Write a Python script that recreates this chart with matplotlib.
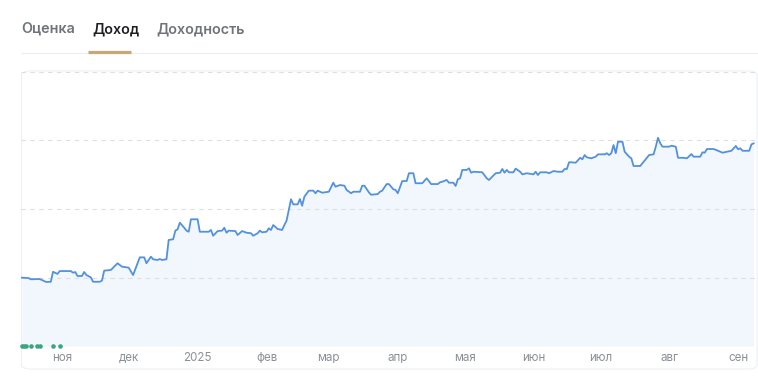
import matplotlib
matplotlib.use('Agg')
import matplotlib.pyplot as plt
import matplotlib.dates as mdates
from matplotlib.patches import FancyBboxPatch
import numpy as np

plt.rcParams['font.family'] = ['Inter', 'DejaVu Sans']

# ---------------- data ----------------
tabs = ['Оценка', 'Доход', 'Доходность']
active_tab = 'Доход'

month_ticks = ['2024-11-01', '2024-12-01', '2025-01-01', '2025-02-01', '2025-03-01',
               '2025-04-01', '2025-05-01', '2025-06-01', '2025-07-01', '2025-08-01',
               '2025-09-01']
month_labels = ['ноя', 'дек', '2025', 'фев', 'мар', 'апр', 'мая', 'июн', 'июл', 'авг', 'сен']

grid_values = [0, 50, 100, 150, 200]

dates = [
    '2024-10-14', '2024-10-17', '2024-10-18', '2024-10-22', '2024-10-24', '2024-10-25',
    '2024-10-27', '2024-10-28', '2024-10-30', '2024-10-31', '2024-11-05', '2024-11-06',
    '2024-11-07', '2024-11-08', '2024-11-10', '2024-11-11', '2024-11-12', '2024-11-14',
    '2024-11-15', '2024-11-18', '2024-11-19', '2024-11-20', '2024-11-23', '2024-11-26',
    '2024-11-28', '2024-12-01', '2024-12-03', '2024-12-06', '2024-12-08', '2024-12-09',
    '2024-12-11', '2024-12-12', '2024-12-14', '2024-12-15', '2024-12-16', '2024-12-18',
    '2024-12-19', '2024-12-21', '2024-12-22', '2024-12-23', '2024-12-24', '2024-12-26',
    '2024-12-27', '2024-12-28', '2024-12-29', '2025-01-01', '2025-01-02', '2025-01-06',
    '2025-01-07', '2025-01-08', '2025-01-10', '2025-01-12', '2025-01-13', '2025-01-14',
    '2025-01-15', '2025-01-18', '2025-01-19', '2025-01-21', '2025-01-23', '2025-01-25',
    '2025-01-26', '2025-01-28', '2025-01-29', '2025-01-30', '2025-02-01', '2025-02-02',
    '2025-02-03', '2025-02-04', '2025-02-06', '2025-02-08', '2025-02-09', '2025-02-10',
    '2025-02-12', '2025-02-13', '2025-02-15', '2025-02-16', '2025-02-17', '2025-02-18',
    '2025-02-20', '2025-02-22', '2025-02-23', '2025-02-24', '2025-02-26', '2025-03-01',
    '2025-03-03', '2025-03-04', '2025-03-06', '2025-03-08', '2025-03-09', '2025-03-11',
    '2025-03-12', '2025-03-15', '2025-03-16', '2025-03-17', '2025-03-19', '2025-03-20',
    '2025-03-23', '2025-03-24', '2025-03-25', '2025-03-27', '2025-03-28', '2025-03-30',
    '2025-03-31', '2025-04-01', '2025-04-03', '2025-04-05', '2025-04-06', '2025-04-08',
    '2025-04-09', '2025-04-12', '2025-04-14', '2025-04-16', '2025-04-19', '2025-04-20',
    '2025-04-21', '2025-04-23', '2025-04-24', '2025-04-26', '2025-04-27', '2025-04-28',
    '2025-04-29', '2025-04-30', '2025-05-02', '2025-05-03', '2025-05-04', '2025-05-05',
    '2025-05-09', '2025-05-11', '2025-05-12', '2025-05-15', '2025-05-17', '2025-05-18',
    '2025-05-19', '2025-05-20', '2025-05-21', '2025-05-23', '2025-05-24', '2025-05-26',
    '2025-05-27', '2025-05-29', '2025-06-01', '2025-06-02', '2025-06-03', '2025-06-04',
    '2025-06-07', '2025-06-08', '2025-06-10', '2025-06-12', '2025-06-14', '2025-06-15',
    '2025-06-16', '2025-06-17', '2025-06-18', '2025-06-20', '2025-06-22', '2025-06-23',
    '2025-06-24', '2025-06-25', '2025-06-27', '2025-06-29', '2025-06-30', '2025-07-03',
    '2025-07-04', '2025-07-05', '2025-07-06', '2025-07-07', '2025-07-08', '2025-07-09',
    '2025-07-11', '2025-07-12', '2025-07-14', '2025-07-15', '2025-07-16', '2025-07-19',
    '2025-07-20', '2025-07-23', '2025-07-25', '2025-07-26', '2025-07-27', '2025-07-28',
    '2025-07-29', '2025-08-01', '2025-08-02', '2025-08-04', '2025-08-05', '2025-08-07',
    '2025-08-09', '2025-08-11', '2025-08-12', '2025-08-15', '2025-08-16', '2025-08-17',
    '2025-08-18', '2025-08-21', '2025-08-23', '2025-08-25', '2025-08-27', '2025-08-29',
    '2025-08-31', '2025-09-01', '2025-09-02', '2025-09-03', '2025-09-06', '2025-09-07',
    '2025-09-08',
]

values = [
    49.9, 49.6, 48.7, 48.9, 47.4, 46.7,
    46.9, 54.2, 52.6, 54.7, 54.7, 53.5,
    54.0, 51.1, 51.1, 54.0, 51.8, 50.1,
    46.9, 46.9, 47.7, 55.0, 55.5, 60.4,
    57.9, 57.2, 51.8, 64.7, 64.7, 60.4,
    65.2, 63.3, 62.8, 63.5, 62.8, 63.3,
    77.4, 77.9, 84.2, 85.2, 90.0, 86.3,
    84.2, 83.4, 92.5, 92.5, 83.4, 83.4,
    84.7, 80.5, 83.9, 84.2, 86.3, 82.7,
    84.2, 83.9, 81.0, 83.9, 82.7, 82.3,
    80.5, 82.3, 84.2, 83.0, 83.4, 85.9,
    84.7, 88.3, 85.4, 84.7, 88.3, 91.5,
    107.1, 103.4, 103.4, 107.3, 102.4, 109.0,
    113.4, 113.4, 111.5, 113.4, 111.9, 112.6,
    119.2, 116.3, 117.5, 117.0, 113.9, 111.5,
    112.6, 112.6, 117.0, 117.0, 112.2, 110.4,
    110.9, 112.6, 113.4, 118.2, 118.2, 114.4,
    113.9, 111.5, 120.4, 120.4, 126.1, 126.1,
    118.8, 118.8, 122.4, 118.2, 118.2, 119.5,
    119.9, 121.2, 119.2, 119.2, 116.8, 121.7,
    122.4, 128.5, 128.5, 129.7, 126.5, 127.2,
    126.8, 122.4, 121.2, 126.1, 126.5, 129.2,
    126.5, 128.5, 126.8, 126.8, 129.5, 127.2,
    125.3, 126.1, 125.3, 127.2, 124.8, 126.8,
    126.8, 126.1, 127.7, 127.2, 127.2, 129.2,
    129.2, 134.1, 134.1, 133.8, 137.4, 136.3,
    139.4, 137.7, 137.0, 138.2, 139.9, 139.9,
    140.7, 139.4, 140.7, 146.7, 140.7, 149.1,
    149.1, 141.8, 138.2, 137.0, 131.4, 131.4,
    133.4, 139.4, 139.9, 145.5, 152.0, 148.0,
    145.5, 145.5, 146.2, 145.5, 137.4, 137.4,
    137.0, 140.1, 138.2, 138.2, 141.4, 141.1,
    143.8, 143.8, 142.5, 141.1, 141.8, 142.5,
    146.0, 143.6, 144.3, 142.5, 142.5, 147.2,
    147.9,
]

payout_dates = ['2024-10-14', '2024-10-15', '2024-10-16', '2024-10-18',
                '2024-10-21', '2024-10-22', '2024-10-28', '2024-10-31']

# ---------------- figure ----------------
W, H = 758, 379
fig = plt.figure(figsize=(W / 100, H / 100), dpi=100)
fig.patch.set_facecolor('white')

def fx(px):
    return px / W

def fy(py):
    return 1 - py / H

# tabs
tab_x = [21, 92, 156]
tab_color_inactive = '#6f737a'
tab_color_active = '#1d1f23'
for label, x in zip(tabs, tab_x):
    fig.text(fx(x), fy(29), label, ha='left', va='center', fontsize=10.3,
             fontweight='semibold',
             color=tab_color_active if label == active_tab else tab_color_inactive)

# separator line and active underline
fig.add_artist(plt.Line2D([fx(21), fx(757)], [fy(52.5), fy(52.5)], color='#eceef1', lw=0.8))
fig.add_artist(plt.Line2D([fx(88), fx(131)], [fy(51.5), fy(51.5)], color='#c6a877', lw=2.3,
                          solid_capstyle='butt'))

# panel box
panel = FancyBboxPatch((fx(21.5), fy(369)), fx(757 - 21.5), (369 - 71) / H,
                       boxstyle='round,pad=0,rounding_size=0.012',
                       transform=fig.transFigure, facecolor='white',
                       edgecolor='#eef0f3', lw=0.8, zorder=0)
fig.add_artist(panel)

# axes
ax = fig.add_axes([fx(21), fy(346), fx(757 - 21), (346 - 72) / H])
ax.set_facecolor('none')
d = mdates.datestr2num(dates)
v = np.array(values)

base = mdates.datestr2num('2024-11-01')
ax.set_xlim(base - 18.4, base + 312.5)
ax.set_ylim(0, 200)

for g in grid_values:
    ax.axhline(g, color='#dcdfe3', lw=0.8, ls=(0, (4, 4)), zorder=1)

ax.fill_between(d, 0, v, color='#f2f6fd', lw=0, zorder=0.5)
ax.plot(d, v, color='#5292dd', lw=1.3, zorder=3, solid_joinstyle='round')

pd_ = mdates.datestr2num(payout_dates)
ax.plot(pd_, np.zeros(len(pd_)), 'o', ms=3.3, color='#3aa57e', mec='none',
        clip_on=False, zorder=4)

ax.set_xticks(mdates.datestr2num(month_ticks))
ax.set_xticklabels(month_labels)
ax.tick_params(axis='x', length=0, pad=4, labelsize=8.3, labelcolor='#8b9098')
ax.set_yticks([])
for s in ax.spines.values():
    s.set_visible(False)

fig.savefig('out.png', dpi=100, facecolor='white')
